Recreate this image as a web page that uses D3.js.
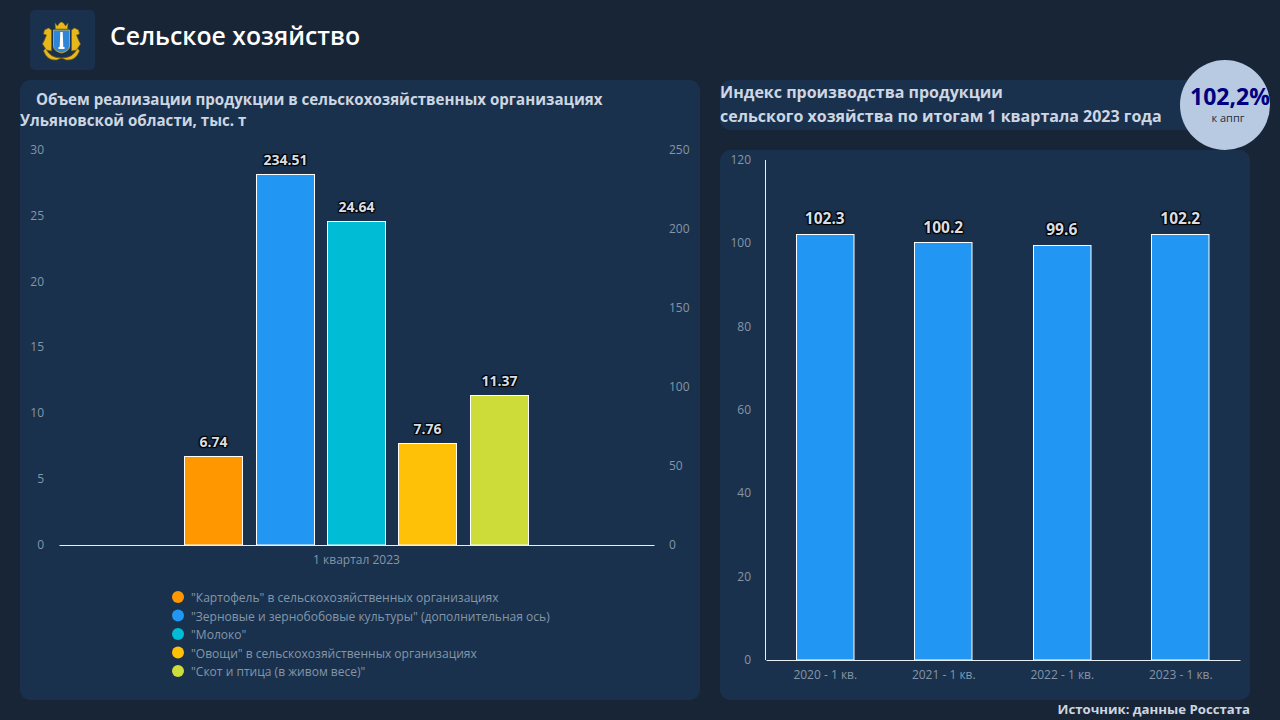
<!DOCTYPE html>
<html><head><meta charset="utf-8">
<script src="https://cdn.jsdelivr.net/npm/d3@7/dist/d3.min.js"></script>
<style>
html,body{margin:0;padding:0;background:#172536;width:1280px;height:720px;overflow:hidden}
svg{display:block}
text{font-family:"Open Sans",sans-serif}
.val{font-weight:700;fill:#d8dde3;text-shadow:1px 1px 1px #000,-1px -1px 1px #000,1px -1px 1px #000,-1px 1px 1px #000}
</style></head><body>
<svg id="c" width="1280" height="720"></svg>
<script>
const pageTitle = "Сельское хозяйство";
const leftTitle = ["Объем реализации продукции в сельскохозяйственных организациях","Ульяновской области, тыс. т"];
const rightTitle = ["Индекс производства продукции","сельского хозяйства по итогам 1 квартала 2023 года"];
const leftCategory = ["1 квартал 2023"];
const seriesNames = ['"Картофель" в сельскохозяйственных организациях','"Зерновые и зернобобовые культуры" (дополнительная ось)','"Молоко"','"Овощи" в сельскохозяйственных организациях','"Скот и птица (в живом весе)"'];
const seriesValues = [6.74,234.51,24.64,7.76,11.37];
const seriesAxis = ["left","right","left","left","left"];
const seriesColors = ["#ff9800","#2196f3","#00bcd4","#ffc107","#cddc39"];
const leftTicks = [0,5,10,15,20,25,30];
const rightTicks = [0,50,100,150,200,250];
const periods = ["2020 - 1 кв.","2021 - 1 кв.","2022 - 1 кв.","2023 - 1 кв."];
const indexValues = [102.3,100.2,99.6,102.2];
const indexTicks = [0,20,40,60,80,100,120];
const badgeValue = "102,2%";
const badgeNote = "к аппг";
const sourceText = "Источник: данные Росстата";

const svg = d3.select("#c");
const panel = "#19314c", axisText = "#8496a9", white = "#fff";
const font = '"Open Sans",sans-serif';

function rrect(x,y,w,h,r,f){svg.append("rect").attr("x",x).attr("y",y).attr("width",w).attr("height",h).attr("rx",r).attr("fill",f);}
rrect(30,10,65,60,5,panel);
rrect(20,80,680,620,10,panel);
rrect(720,80,480,50,10,panel);
rrect(720,150,530,550,10,panel);

// emblem
const em = svg.append("g").attr("transform","translate(61.5,40)");
const gold="#e6b81c", dk="#7a5c10";
em.append("path").attr("d","M-16 8 Q-12 18 0 18 Q12 18 16 8 L18 11 Q14 21 5 20 L0 18 L-5 20 Q-14 21 -18 11Z").attr("fill",gold).attr("stroke",dk).attr("stroke-width",.7);
em.append("path").attr("d","M-6.5 -17 L-4 -14 L-2 -17 L0 -18 L2 -17 L4 -14 L6.5 -17 L6 -11 L-6 -11Z").attr("fill",gold).attr("stroke",dk).attr("stroke-width",.5);
em.append("path").attr("d","M-10 -10 L-13 -12 L-17 -10 L-18 -6 L-15 -5 L-17 0 L-19 4 L-15 10 L-10 11 Z").attr("fill",gold).attr("stroke",dk).attr("stroke-width",.6);
em.append("path").attr("d","M10 -10 L13 -12 L17 -10 L18 -6 L15 -5 L17 0 L19 4 L15 10 L10 11 Z").attr("fill",gold).attr("stroke",dk).attr("stroke-width",.6);
em.append("path").attr("d","M-8 -10 H8 V6 Q8 11 0 13 Q-8 11 -8 6Z").attr("fill","#2f85d8").attr("stroke",gold).attr("stroke-width",.8);
em.append("path").attr("d","M-1.2 -8 H1.2 L1.8 7 H3 V9 H-3 V7 H-1.8Z").attr("fill","#fff");

svg.append("text").attr("x",110).attr("y",45).attr("font-size",24.8).attr("font-weight",600).attr("fill","#fff").text(pageTitle);

const tStyle = s=>s.attr("font-weight",700).attr("fill","#cdd6e2");
svg.append("text").attr("x",36).attr("y",105).attr("font-size",15.1).call(tStyle).text(leftTitle[0]);
svg.append("text").attr("x",20).attr("y",126).attr("font-size",15.1).call(tStyle).text(leftTitle[1]);
svg.append("text").attr("x",720).attr("y",98).attr("font-size",16).call(tStyle).text(rightTitle[0]);
svg.append("text").attr("x",720).attr("y",122).attr("font-size",16).call(tStyle).text(rightTitle[1]);

// badge
svg.append("circle").attr("cx",1225).attr("cy",105).attr("r",45).attr("fill","#b8c9e2");
svg.append("text").attr("x",1230).attr("y",105).attr("text-anchor","middle").attr("font-size",23).attr("font-weight",700).attr("fill","#000080").text(badgeValue);
svg.append("text").attr("x",1228).attr("y",122).attr("text-anchor","middle").attr("font-size",11).attr("fill","#1f2d3d").text(badgeNote);

// left chart
const yL = d3.scaleLinear().domain([0,30]).range([545,150]);
const yR = d3.scaleLinear().domain([0,250]).range([545,150]);
const x0 = d3.scaleBand().domain(leftCategory).range([59,654]).padding(.25);
const x1 = d3.scaleBand().domain(seriesNames).range([0,x0.bandwidth()]).paddingInner(.175).paddingOuter(.0875);
const yOf = i => seriesAxis[i]==="right"?yR:yL;
const snap = v => Math.round(v)+.5;

function cleanAxis(g){g.select(".domain").remove();g.selectAll(".tick line").remove();g.selectAll("text").attr("fill",axisText).attr("font-family",font).attr("font-size",12);}
svg.append("g").attr("transform","translate(44,-.5)").call(d3.axisLeft(yL).tickValues(leftTicks).tickSize(0).tickPadding(0)).call(cleanAxis);
svg.append("g").attr("transform","translate(669,-.5)").call(d3.axisRight(yR).tickValues(rightTicks).tickSize(0).tickPadding(0)).call(cleanAxis);

const barX = i => x0(leftCategory[0])+x1(seriesNames[i]);
svg.append("g").selectAll("rect").data(seriesValues).join("rect")
  .attr("x",(d,i)=>snap(barX(i)))
  .attr("y",(d,i)=>snap(yOf(i)(d)))
  .attr("width",58)
  .attr("height",(d,i)=>545-snap(yOf(i)(d)))
  .attr("fill",(d,i)=>seriesColors[i]).attr("stroke",white).attr("stroke-width",1);
svg.append("g").selectAll("text").data(seriesValues).join("text").attr("class","val")
  .attr("font-size",14)
  .attr("x",(d,i)=>snap(barX(i))+29)
  .attr("y",(d,i)=>yOf(i)(d)-9)
  .attr("text-anchor","middle").text(d=>d.toFixed(2));
const axL = svg.append("g").attr("transform","translate(0,545)").call(d3.axisBottom(x0).tickSize(0).tickPadding(10));
axL.select(".domain").attr("stroke","#e8eef5");
axL.selectAll("text").attr("fill",axisText).attr("font-family",font).attr("font-size",12);

// legend
const legendY = d3.scalePoint().domain(seriesNames).range([597,671]);
const lg = svg.append("g").selectAll("g").data(seriesNames).join("g").attr("transform",d=>`translate(178,${legendY(d)})`);
lg.append("circle").attr("r",6).attr("fill",(d,i)=>seriesColors[i]);
lg.append("text").attr("x",13).attr("y",5).attr("font-size",12.05).attr("fill",axisText).text(d=>d);

// right chart
const xR = d3.scaleBand().domain(periods).range([766,1240]).paddingInner(.51).paddingOuter(.255);
const yI = d3.scaleLinear().domain([0,120]).range([660,160]);
svg.append("g").attr("transform","translate(751,-.5)").call(d3.axisLeft(yI).tickValues(indexTicks).tickSize(0).tickPadding(0)).call(cleanAxis);
svg.append("g").selectAll("rect").data(indexValues).join("rect")
  .attr("x",(d,i)=>snap(xR(periods[i])-.5)).attr("y",d=>snap(yI(d)-.2)).attr("width",57.5).attr("height",d=>660-snap(yI(d)-.2))
  .attr("fill","#2196f3").attr("stroke",white).attr("stroke-width",1);
svg.append("g").selectAll("text").data(indexValues).join("text").attr("class","val")
  .attr("font-size",15.5)
  .attr("x",(d,i)=>xR(periods[i])+xR.bandwidth()/2-.5).attr("y",d=>yI(d)-10).attr("text-anchor","middle")
  .text(d=>d.toFixed(1));
const axB = svg.append("g").attr("transform","translate(0,660)").call(d3.axisBottom(xR).tickSize(0).tickPadding(10));
axB.select(".domain").attr("stroke","#e8eef5");
axB.selectAll("text").attr("fill",axisText).attr("font-family",font).attr("font-size",12);
svg.append("line").attr("x1",765.5).attr("x2",765.5).attr("y1",160).attr("y2",660).attr("stroke","#e8eef5");

svg.append("text").attr("x",1250).attr("y",714).attr("text-anchor","end").attr("font-size",13.2).attr("font-weight",700).attr("fill","#cdd6e2").text(sourceText);
</script></body></html>
